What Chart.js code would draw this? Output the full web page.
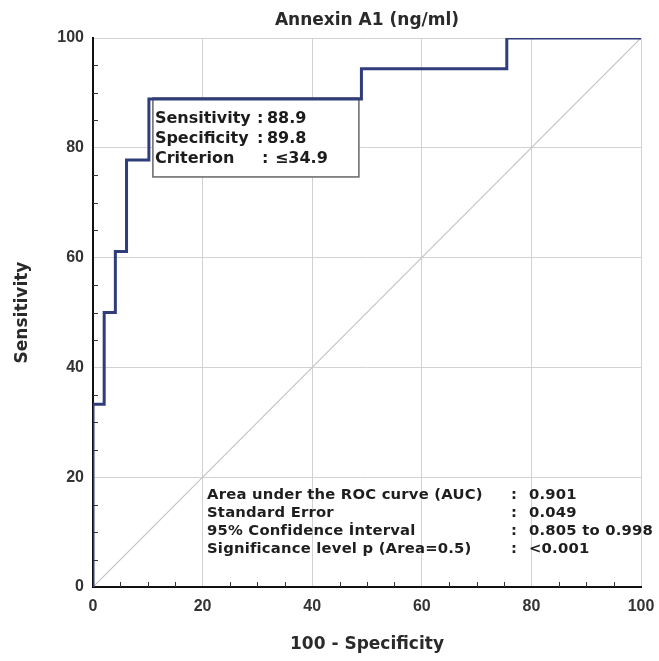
<!DOCTYPE html>
<html lang="en">

<head>
    <meta charset="UTF-8">
    <title>Annexin A1 ROC</title>
    <script src="https://cdn.jsdelivr.net/npm/chart.js"></script>
    <style>
        body { margin: 0; background: #fff; }
    </style>
</head>

<body>
    <canvas id="roc" width="659" height="661"></canvas>
</body>

<script>
    // ROC points (100 - specificity, sensitivity)
    var fpr = [0, 0, 2.04, 4.08, 6.12, 10.2, 48.98, 75.51, 100];
    var tpr = [0, 33.3, 50, 61.1, 77.8, 88.9, 94.4, 100, 100];

    var diagX = [0, 100];
    var diagY = [0, 100];

    var cutX = 10.2;
    var cutY = 88.9;

    var boxLabels = ['Sensitivity', 'Specificity', 'Criterion'];
    var boxValues = ['88.9', '89.8', '\u226434.9'];

    var statLabels = [
        'Area under the ROC curve (AUC)',
        'Standard Error',
        '95% Confidence \u0130nterval',
        'Significance level p (Area=0.5)'
    ];
    var statValues = ['0.901', '0.049', '0.805 to 0.998', '<0.001'];

    var minorTicks = [5, 10, 15, 25, 30, 35, 45, 50, 55, 65, 70, 75, 85, 90, 95];

    var rocPoints = fpr.map((x, i) => ({ x: x, y: tpr[i] }));
    var diagPoints = diagX.map((x, i) => ({ x: x, y: diagY[i] }));

    // minor tick marks drawn inside the plot along both axes
    var minorTickPlugin = {
        id: 'minorTicks',
        afterDraw(chart) {
            var ctx = chart.ctx;
            var xs = chart.scales.x, ys = chart.scales.y;
            var a = chart.chartArea;
            ctx.save();
            ctx.strokeStyle = '#333';
            ctx.lineWidth = 1;
            ctx.beginPath();
            minorTicks.forEach(v => {
                var px = Math.round(xs.getPixelForValue(v)) + 0.5;
                ctx.moveTo(px, a.bottom);
                ctx.lineTo(px, a.bottom - 5);
                var py = Math.round(ys.getPixelForValue(v)) + 0.5;
                ctx.moveTo(a.left, py);
                ctx.lineTo(a.left + 5, py);
            });
            ctx.stroke();
            ctx.restore();
        }
    };

    // box with the optimal cut-off, sits under the curve
    var cutoffBoxPlugin = {
        id: 'cutoffBox',
        beforeDatasetsDraw(chart) {
            var ctx = chart.ctx;
            var left = chart.scales.x.getPixelForValue(cutX) + 4;
            var top = chart.scales.y.getPixelForValue(cutY) - 1;
            var w = 206, h = 79;
            ctx.save();
            ctx.fillStyle = '#fff';
            ctx.fillRect(left, top, w, h);
            ctx.strokeStyle = '#666';
            ctx.lineWidth = 1.5;
            ctx.strokeRect(left, top, w, h);
            ctx.fillStyle = '#1c1c1c';
            ctx.font = 'bold 16px "DejaVu Sans"';
            ctx.textBaseline = 'middle';
            var rowY = [21, 41, 61];
            var colonX = [104, 104, 109];
            var valX = [114, 114, 122];
            boxLabels.forEach((lab, i) => {
                ctx.fillText(lab, left + 2, top + rowY[i]);
                ctx.fillText(':', left + colonX[i], top + rowY[i]);
                ctx.fillText(boxValues[i], left + valX[i], top + rowY[i]);
            });
            ctx.restore();
        }
    };

    // AUC summary in the lower right of the plot
    var statsPlugin = {
        id: 'stats',
        afterDatasetsDraw(chart) {
            var ctx = chart.ctx;
            var a = chart.chartArea;
            ctx.save();
            ctx.fillStyle = '#1e1e1e';
            ctx.font = 'bold 14.8px "DejaVu Sans"';
            ctx.letterSpacing = '0.2px';
            ctx.textBaseline = 'middle';
            statLabels.forEach((lab, i) => {
                var y = a.bottom - 92 + i * 18;
                ctx.fillText(lab, a.left + 114, y);
                ctx.fillText(':', a.left + 418, y);
                ctx.fillText(statValues[i], a.left + 436, y);
            });
            ctx.restore();
        }
    };

    var tickFont = { family: 'Liberation Sans', size: 16, weight: 'bold' };
    var titleFont = { family: 'DejaVu Sans', size: 17, weight: 'bold' };

    new Chart(document.getElementById('roc'), {
        type: 'scatter',
        data: {
            datasets: [
                {
                    data: rocPoints,
                    showLine: true,
                    stepped: 'before',
                    borderColor: '#2f3d7a',
                    borderWidth: 3,
                    pointRadius: 0,
                    fill: false
                },
                {
                    data: diagPoints,
                    showLine: true,
                    borderColor: '#c4c4c4',
                    borderWidth: 1.2,
                    pointRadius: 0,
                    fill: false
                }
            ]
        },
        options: {
            responsive: false,
            animation: false,
            devicePixelRatio: 1,
            layout: { padding: { left: 0, right: 18, top: 0, bottom: 0 } },
            plugins: {
                legend: { display: false },
                tooltip: { enabled: false },
                title: { display: false }
            },
            scales: {
                // top axis only carries the chart title, centred over the plot
                top: {
                    type: 'linear',
                    position: 'top',
                    min: 0,
                    max: 100,
                    ticks: { display: false },
                    grid: { display: false, drawTicks: false },
                    border: { display: false },
                    title: {
                        display: true,
                        text: 'Annexin A1 (ng/ml)',
                        color: '#2a2a2a',
                        font: titleFont,
                        padding: { top: 10, bottom: 0 }
                    },
                    afterFit(s) { s.height = 38; s.paddingLeft = 0; s.paddingRight = 0; }
                },
                x: {
                    type: 'linear',
                    min: 0,
                    max: 100,
                    ticks: { stepSize: 20, color: '#333', font: tickFont, padding: 10, maxRotation: 0 },
                    grid: { color: '#d2d2d2', drawTicks: false },
                    border: { color: '#111', width: 2 },
                    title: {
                        display: true,
                        text: '100 - Specificity',
                        color: '#2a2a2a',
                        font: titleFont,
                        padding: { top: 0, bottom: 6 }
                    },
                    afterFit(s) { s.height = 74; s.paddingLeft = 0; s.paddingRight = 0; }
                },
                y: {
                    type: 'linear',
                    min: 0,
                    max: 100,
                    ticks: { stepSize: 20, color: '#333', font: tickFont, padding: 9 },
                    grid: { color: '#d2d2d2', drawTicks: false },
                    border: { color: '#111', width: 2 },
                    title: {
                        display: true,
                        text: 'Sensitivity',
                        color: '#2a2a2a',
                        font: titleFont,
                        padding: { top: 12, bottom: 0 }
                    },
                    afterFit(s) { s.width = 93; }
                }
            }
        },
        plugins: [cutoffBoxPlugin, statsPlugin, minorTickPlugin]
    });
</script>

</html>
